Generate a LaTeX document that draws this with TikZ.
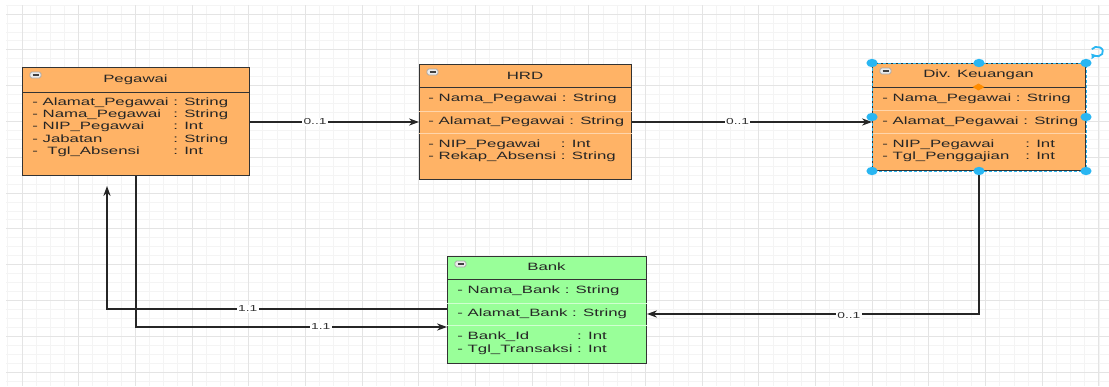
\documentclass[tikz,border=0pt]{standalone}
\usepackage{fontspec}
\setmainfont{Liberation Sans}
\usetikzlibrary{arrows.meta}

\definecolor{boxorange}{HTML}{FFB366}
\definecolor{boxgreen}{HTML}{99FF99}
\definecolor{gridmajor}{HTML}{E4E4E4}
\definecolor{gridminor}{HTML}{F4F4F4}
\definecolor{selblue}{HTML}{29B6F2}
\definecolor{txtcol}{HTML}{262626}
\newcommand{\attrfont}{\fontsize{8.4pt}{9.8pt}\selectfont}
\newcommand{\lblfont}{\fontsize{6.9pt}{8pt}\selectfont}

% header rule and the little collapse icon of a class box
\newcommand{\clshead}[2]{%
  \draw[black!80, line width=0.5pt] (#1.north west) ++(0,#2) coordinate (tmp) -- (tmp -| #1.east);
  \draw[gray!70, fill=gray!15, rounded corners=0.8pt] (#1.north west) ++(8,5) rectangle ++(11,6);
  \draw[black!75, line width=0.6pt] (#1.north west) ++(10.5,8) -- ++(6,0);
}

\tikzset{
  cls/.style={draw=black!80, line width=0.5pt, inner sep=0pt, anchor=north west},
  orangecls/.style={cls, fill=boxorange},
  greencls/.style={cls, fill=boxgreen},
  clstitle/.style={font=\attrfont, text=txtcol, yscale=0.63, inner sep=0pt},
  attr/.style={font=\attrfont, text=txtcol, yscale=0.63, inner sep=0pt, anchor=west},
  seprule/.style={line width=0.5pt},
  conn/.style={draw=black!85, line width=0.65pt, -{Stealth[length=5pt, width=3.6pt]}},
  lbl/.style={fill=white, font=\lblfont, text=black!80, inner sep=0.6pt, yscale=0.63},
  handle/.style={fill=selblue}
}

\begin{document}
\begin{tikzpicture}[x=0.5pt, y=-0.5pt]
\useasboundingbox (0,0) rectangle (1109,386);
\fill[white] (0,0) rectangle (1109,386);

% Grid
\foreach \i in {0,...,77}
  \draw[gridminor, line width=0.4pt] ({7.83+14.17*\i},5) -- ({7.83+14.17*\i},386);
\foreach \i in {0,...,42}
  \draw[gridminor, line width=0.4pt] (6,{5.05+8.95*\i}) -- (1109,{5.05+8.95*\i});
\foreach \i in {0,...,19}
  \draw[gridmajor, line width=0.5pt] ({22+56.68*\i},5) -- ({22+56.68*\i},386);
\foreach \i in {0,...,10}
  \draw[gridmajor, line width=0.5pt] (6,{14+35.8*\i}) -- (1109,{14+35.8*\i});

% Class boxes
\node[orangecls, minimum width=113.5pt, minimum height=54pt] (pegawai) at (22,67) {};
\node[orangecls, minimum width=106pt, minimum height=57.5pt] (hrd) at (419,64) {};
\node[orangecls, minimum width=106.5pt, minimum height=53.5pt] (div) at (872,63) {};
\node[greencls, minimum width=99.5pt, minimum height=53.5pt] (bank) at (447,256) {};

\clshead{pegawai}{25}
\clshead{hrd}{23}
\clshead{div}{24}
\clshead{bank}{23}

% compartment separators
\draw[seprule, boxorange!55!white] (hrd.west |- 0,111) -- (hrd.east |- 0,111);
\draw[seprule, boxorange!55!white] (hrd.west |- 0,133) -- (hrd.east |- 0,133);
\draw[seprule, boxorange!55!white] (div.west |- 0,110) -- (div.east |- 0,110);
\draw[seprule, boxorange!55!white] (div.west |- 0,133) -- (div.east |- 0,133);
\draw[seprule, boxgreen!45!white] (bank.west |- 0,303) -- (bank.east |- 0,303);
\draw[seprule, boxgreen!45!white] (bank.west |- 0,325) -- (bank.east |- 0,325);

% Texts
\node[clstitle] (pegawaiT) at (135.5,80) {Pegawai};
\node[attr] (pegawaiA) at (32,127.5) {\begin{tabular}{@{}l@{\ }l@{}}
  - Alamat\_Pegawai & : String\\
  - Nama\_Pegawai & : String\\
  - NIP\_Pegawai & : Int\\
  - Jabatan & : String\\
  - \ Tgl\_Absensi & : Int
\end{tabular}};

\node[clstitle] (hrdT) at (525,75.5) {HRD};
\node[attr] (hrdA) at (428,99) {- Nama\_Pegawai : String};
\node[attr] (hrdB) at (428,122) {- Alamat\_Pegawai : String};
\node[attr] (hrdC) at (428,151) {\begin{tabular}{@{}l@{\ }l@{}}
  - NIP\_Pegawai & : Int\\
  - Rekap\_Absensi & : String
\end{tabular}};

\node[clstitle] (divT) at (978.5,75) {Div. Keuangan};
\node[attr] (divA) at (882,99) {- Nama\_Pegawai : String};
\node[attr] (divB) at (882,122) {- Alamat\_Pegawai : String};
\node[attr] (divC) at (882,151) {\begin{tabular}{@{}l@{\hspace{8pt}}l@{}}
  - NIP\_Pegawai & : Int\\
  - Tgl\_Penggajian & : Int
\end{tabular}};

\node[clstitle] (bankT) at (546.5,267) {Bank};
\node[attr] (bankA) at (457,291) {- Nama\_Bank : String};
\node[attr] (bankB) at (457,314) {- Alamat\_Bank : String};
\node[attr] (bankC) at (457,343.5) {\begin{tabular}{@{}l@{\ }l@{}}
  - Bank\_Id & : Int\\
  - Tgl\_Transaksi & : Int
\end{tabular}};

% Connectors
\coordinate (pegUp) at (107,186);
\draw[conn] (pegawai.east |- 0,122) -- node[lbl, pos=0.385] {0..1} (hrd.west |- 0,122);
\draw[conn] (hrd.east |- 0,122) -- node[lbl, pos=0.44] {0..1} (div.west |- 0,122);
\draw[conn] (div.south) |- node[lbl, pos=0.696, yshift=-1pt] {0..1} (bank.east |- 0,314);
\draw[conn] (bank.west |- 0,309) -| node[lbl, pos=0.293] {1.1} (pegUp);
\draw[conn] (pegawai.south) |- node[lbl, pos=0.797] {1.1} (bank.west |- 0,327);

% Selection of Div. Keuangan
\draw[selblue, dashed, line width=0.5pt, dash pattern=on 1.5pt off 1pt] (div.north west) rectangle (div.south east);
\foreach \a in {north west, north, north east, west, east, south west, south, south east}
  \fill[handle] (div.\a) ellipse [x radius=2.8pt, y radius=2.1pt];
\fill[orange!90!yellow] (978.5,83.5) -- (984.5,87) -- (978.5,90.5) -- (972.5,87) -- cycle;
\draw[selblue, line width=0.9pt, -{Triangle[length=2pt, width=3.2pt]}] (1097,52) ++(-2.6pt,1.4pt) arc[start angle=150, end angle=-150, x radius=3pt, y radius=2.4pt];
\end{tikzpicture}
\end{document}
